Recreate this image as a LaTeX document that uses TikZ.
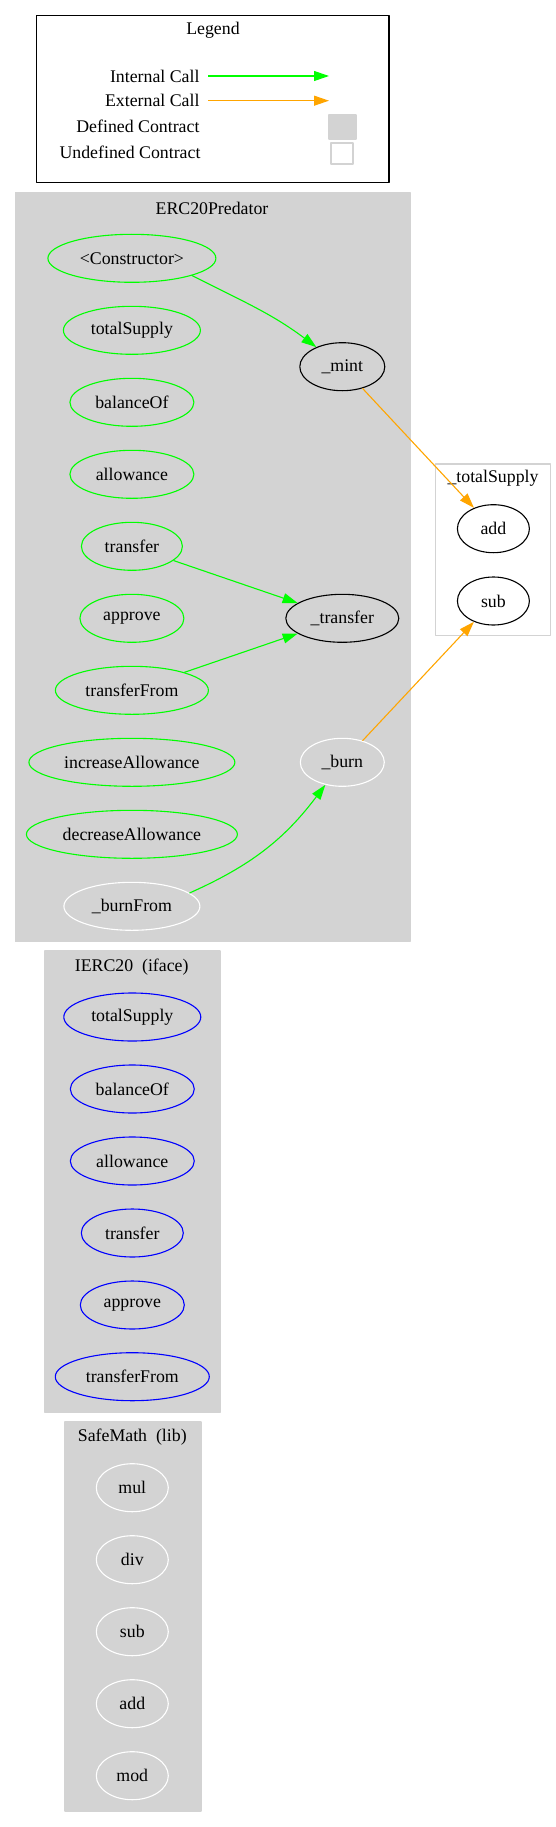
\documentclass[tikz,border=0pt]{standalone}
\usepackage{fontspec}
\setmainfont{Liberation Serif}
\usetikzlibrary{shapes.geometric,arrows.meta}
\definecolor{callgreen}{HTML}{00FF00}
\definecolor{callorange}{HTML}{FFA500}
\definecolor{clustgray}{HTML}{D3D3D3}
\begin{document}
\begin{tikzpicture}[x=1pt, y=1pt, font=\fontsize{17.8}{20}\selectfont, line join=round, >={Triangle[length=15pt,width=10pt]},
		fn/.style={ellipse, draw, line width=1.1pt, inner sep=0pt, minimum height=48pt},
		pubfn/.style={fn, draw=callgreen},
		ifacefn/.style={fn, draw=blue},
		ownfn/.style={fn, draw=black},
		undeffn/.style={fn, draw=white},
		cluster/.style={fill=clustgray, draw=clustgray, line width=1.1pt},
		intcall/.style={->, callgreen, line width=1.1pt},
		extcall/.style={->, callorange, line width=1.1pt}]
		\useasboundingbox (0,0) rectangle (556,-1827);
		% legend
		\draw[line width=1.2pt] (36.7,-15.7) rectangle (389,-182.7);
		\node (legend) at (213,-30) {Legend};
		\node[anchor=east] (lint) at (203,-76) {Internal Call};
		\node[anchor=east] (lext) at (203,-100.7) {External Call};
		\node[anchor=east] (ldef) at (203,-126.7) {Defined Contract};
		\node[anchor=east] (lundef) at (204,-152.7) {Undefined Contract};
		\coordinate (lintA) at (208,-76);
		\coordinate (lintB) at (329,-76);
		\coordinate (lextA) at (208,-100.7);
		\coordinate (lextB) at (329,-100.7);
		\draw[intcall] (lintA) -- (lintB);
		\draw[extcall] (lextA) -- (lextB);
		\filldraw[cluster] (329,-115) rectangle (356,-139);
		\draw[draw=clustgray, line width=1.1pt] (331,-143) rectangle (353,-164);
		% ERC20Predator
		\filldraw[cluster] (15.2,-192.7) rectangle (410,-941.7);
		\node (erc) at (212,-208.3) {ERC20Predator};
		\node[pubfn, minimum width=168pt] (ctor) at (131.9,-258.3) {<Constructor>};
		\node[pubfn, minimum width=137pt] (ercsupply) at (131.9,-330.3) {totalSupply};
		\node[pubfn, minimum width=124pt] (ercbalance) at (131.9,-402.3) {balanceOf};
		\node[pubfn, minimum width=124pt] (ercallow) at (131.9,-474.3) {allowance};
		\node[pubfn, minimum width=101pt] (erctransfer) at (131.9,-546.3) {transfer};
		\node[pubfn, minimum width=104pt] (ercapprove) at (131.9,-618.3) {approve};
		\node[pubfn, minimum width=153pt] (ercfrom) at (131.9,-690.3) {transferFrom};
		\node[pubfn, minimum width=206pt] (ercinc) at (131.9,-762.3) {increaseAllowance};
		\node[pubfn, minimum width=211pt] (ercdec) at (131.9,-834.3) {decreaseAllowance};
		\node[undeffn, minimum width=136pt] (burnfrom) at (131.9,-906.3) {\_burnFrom};
		\node[ownfn, minimum width=85pt] (mint) at (342.3,-366.7) {\_mint};
		\node[ownfn, minimum width=113pt] (xfer) at (342.3,-618.3) {\_transfer};
		\node[undeffn, minimum width=84pt] (burn) at (342.3,-762.3) {\_burn};
		% _totalSupply
		\draw[draw=clustgray, fill=white, line width=1.1pt] (435.8,-464) rectangle (550.7,-635.7);
		\node (tsup) at (493,-478.7) {\_totalSupply};
		\node[ownfn, minimum width=72pt] (tsadd) at (493.4,-528.7) {add};
		\node[ownfn, minimum width=72pt] (tssub) at (493.4,-601) {sub};
		% IERC20
		\filldraw[cluster] (45,-951) rectangle (220,-1412.3);
		\node (ierc) at (131.7,-966.7) {IERC20\ \ (iface)};
		\node[ifacefn, minimum width=137pt] (isupply) at (132.3,-1017) {totalSupply};
		\node[ifacefn, minimum width=124pt] (ibalance) at (132.3,-1089) {balanceOf};
		\node[ifacefn, minimum width=124pt] (iallow) at (132.3,-1161) {allowance};
		\node[ifacefn, minimum width=102pt] (itransfer) at (132.3,-1233) {transfer};
		\node[ifacefn, minimum width=104pt] (iapprove) at (132.3,-1305) {approve};
		\node[ifacefn, minimum width=154pt] (ifrom) at (132.3,-1376.7) {transferFrom};
		% SafeMath
		\filldraw[cluster] (65,-1422) rectangle (201,-1811);
		\node (smath) at (132.3,-1437.3) {SafeMath\ \ (lib)};
		\node[undeffn, minimum width=72pt] (smul) at (132.3,-1487.7) {mul};
		\node[undeffn, minimum width=72pt] (sdiv) at (132.3,-1559.7) {div};
		\node[undeffn, minimum width=72pt] (ssub) at (132.3,-1631.7) {sub};
		\node[undeffn, minimum width=72pt] (sadd) at (132.3,-1703.7) {add};
		\node[undeffn, minimum width=72pt] (smod) at (132.3,-1775.7) {mod};
		% calls
		\draw[intcall] (ctor.-16) to[out=-27, in=143] (mint);
		\draw[intcall] (erctransfer) -- (xfer);
		\draw[intcall] (ercfrom) -- (xfer);
		\draw[intcall] (burnfrom.13) to[out=24, in=-127] (burn);
		\draw[extcall] (mint) -- (tsadd);
		\draw[extcall] (burn) -- (tssub);
	\end{tikzpicture}
\end{document}
